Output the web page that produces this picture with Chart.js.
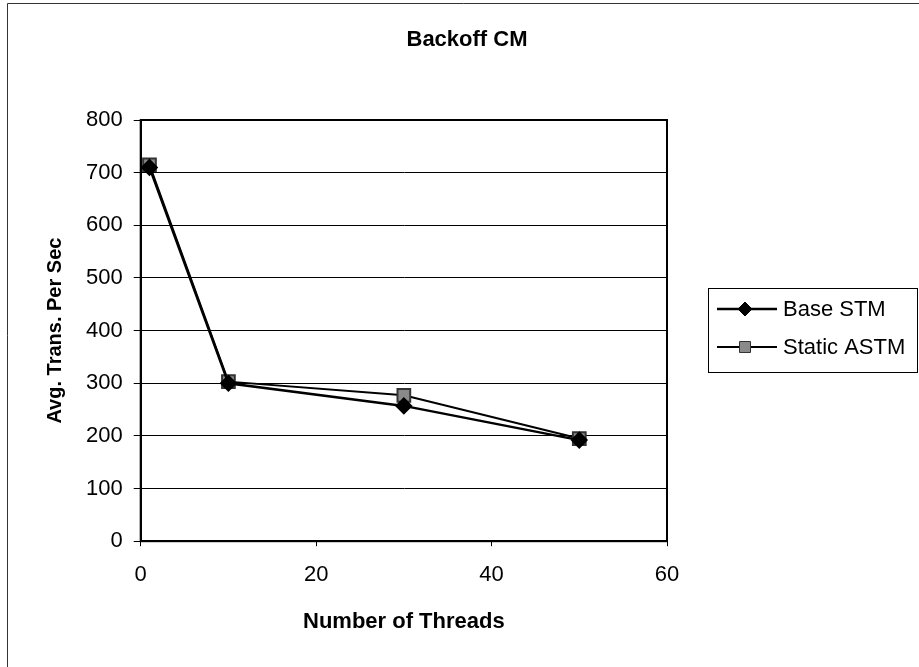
<!DOCTYPE html>
<html>
<head>
<meta charset="utf-8">
<script src="https://cdn.jsdelivr.net/npm/chart.js@4"></script>
<style>
  html, body { margin: 0; padding: 0; background: #fff; }
  #wrap { position: relative; width: 919px; height: 667px; }
</style>
</head>
<body>
<div id="wrap"><canvas id="chart" width="919" height="667"></canvas></div>
<script>
const threads = [1, 10, 30, 50];
const baseStm = [710, 300, 257, 192];
const staticAstm = [715, 303, 277, 195];
const xTicks = [0, 20, 40, 60];
const yTicks = [0, 100, 200, 300, 400, 500, 600, 700, 800];
const chartTitle = 'Backoff CM';

const FONT = 'Liberation Sans, Arial, sans-serif';

function toPoints(vals) {
  return threads.map((t, i) => ({ x: t, y: vals[i] }));
}

// frame, title, plot box and the boxed legend on the right
const decor = {
  id: 'decor',
  beforeDraw(chart) {
    const c = chart.ctx;
    c.save();
    c.strokeStyle = '#333';
    c.lineWidth = 1;
    c.beginPath();
    c.moveTo(7.5, 667);
    c.lineTo(7.5, 3.5);
    c.lineTo(919, 3.5);
    c.stroke();

    c.fillStyle = '#000';
    c.font = 'bold 22px ' + FONT;
    c.textAlign = 'center';
    c.textBaseline = 'middle';
    c.fillText(chartTitle, 467, 40);
    c.restore();
  },
  afterDatasetsDraw(chart) {
    const c = chart.ctx;
    const a = chart.chartArea;
    c.save();
    c.strokeStyle = '#000';
    c.lineWidth = 2;
    c.strokeRect(a.left, a.top, a.right - a.left, a.bottom - a.top);

    const lx = 708, ly = 288, lw = 209, lh = 84;
    c.lineWidth = 1;
    c.strokeRect(lx + 0.5, ly + 0.5, lw, lh);
    const rows = [309, 347];
    chart.data.datasets.forEach((ds, i) => {
      const y = rows[i];
      c.strokeStyle = '#000';
      c.lineWidth = ds.borderWidth;
      c.beginPath();
      c.moveTo(717, y);
      c.lineTo(777, y);
      c.stroke();
      c.fillStyle = ds.pointBackgroundColor;
      c.strokeStyle = ds.pointBorderColor;
      c.lineWidth = 1;
      c.beginPath();
      if (ds.pointStyle === 'rectRot') {
        const r = 7;
        c.moveTo(745, y - r); c.lineTo(745 + r, y); c.lineTo(745, y + r); c.lineTo(745 - r, y);
      } else {
        c.rect(745 - 5.5, y - 5.5, 11, 11);
      }
      c.closePath();
      c.fill();
      c.stroke();
      c.fillStyle = '#000';
      c.font = '22px ' + FONT;
      c.textBaseline = 'middle';
      c.textAlign = 'left';
      c.fillText(ds.label, 783, y + 1);
    });
    c.restore();
  }
};

new Chart(document.getElementById('chart'), {
  type: 'line',
  data: {
    datasets: [
      {
        label: 'Base STM',
        data: toPoints(baseStm),
        borderColor: '#000',
        borderWidth: 2.5,
        pointStyle: 'rectRot',
        pointRadius: 7,
        pointBackgroundColor: '#000',
        pointBorderColor: '#000',
        tension: 0
      },
      {
        label: 'Static ASTM',
        data: toPoints(staticAstm),
        borderColor: '#000',
        borderWidth: 2,
        pointStyle: 'rect',
        pointRadius: 9,
        pointBackgroundColor: '#8a8a8a',
        pointBorderColor: '#333',
        tension: 0
      }
    ]
  },
  options: {
    responsive: false,
    animation: false,
    layout: { padding: { left: 43, right: 252, top: 120, bottom: 32 } },
    plugins: {
      legend: { display: false },
      tooltip: { enabled: false },
      title: { display: false }
    },
    scales: {
      x: {
        type: 'linear',
        min: 0, max: 60,
        afterBuildTicks(s) { s.ticks = xTicks.map(v => ({ value: v })); },
        grid: { drawOnChartArea: false, color: '#000', tickLength: 5 },
        border: { color: '#000', width: 2 },
        ticks: { color: '#000', padding: 16, font: { family: FONT, size: 22 } },
        title: {
          display: true,
          text: 'Number of Threads',
          color: '#000',
          font: { family: FONT, size: 22, weight: 'bold' },
          padding: { top: 4, bottom: 0 }
        }
      },
      y: {
        min: 0, max: 800,
        afterBuildTicks(s) { s.ticks = yTicks.map(v => ({ value: v })); },
        grid: { color: '#000', lineWidth: 1, tickLength: 7 },
        border: { color: '#000', width: 2 },
        ticks: { color: '#000', padding: 11, font: { family: FONT, size: 22 } },
        title: {
          display: true,
          text: 'Avg. Trans. Per Sec',
          color: '#000',
          font: { family: FONT, size: 20, weight: 'bold' },
          padding: { top: 0, bottom: 8 }
        }
      }
    }
  },
  plugins: [decor]
});
</script>
</body>
</html>
